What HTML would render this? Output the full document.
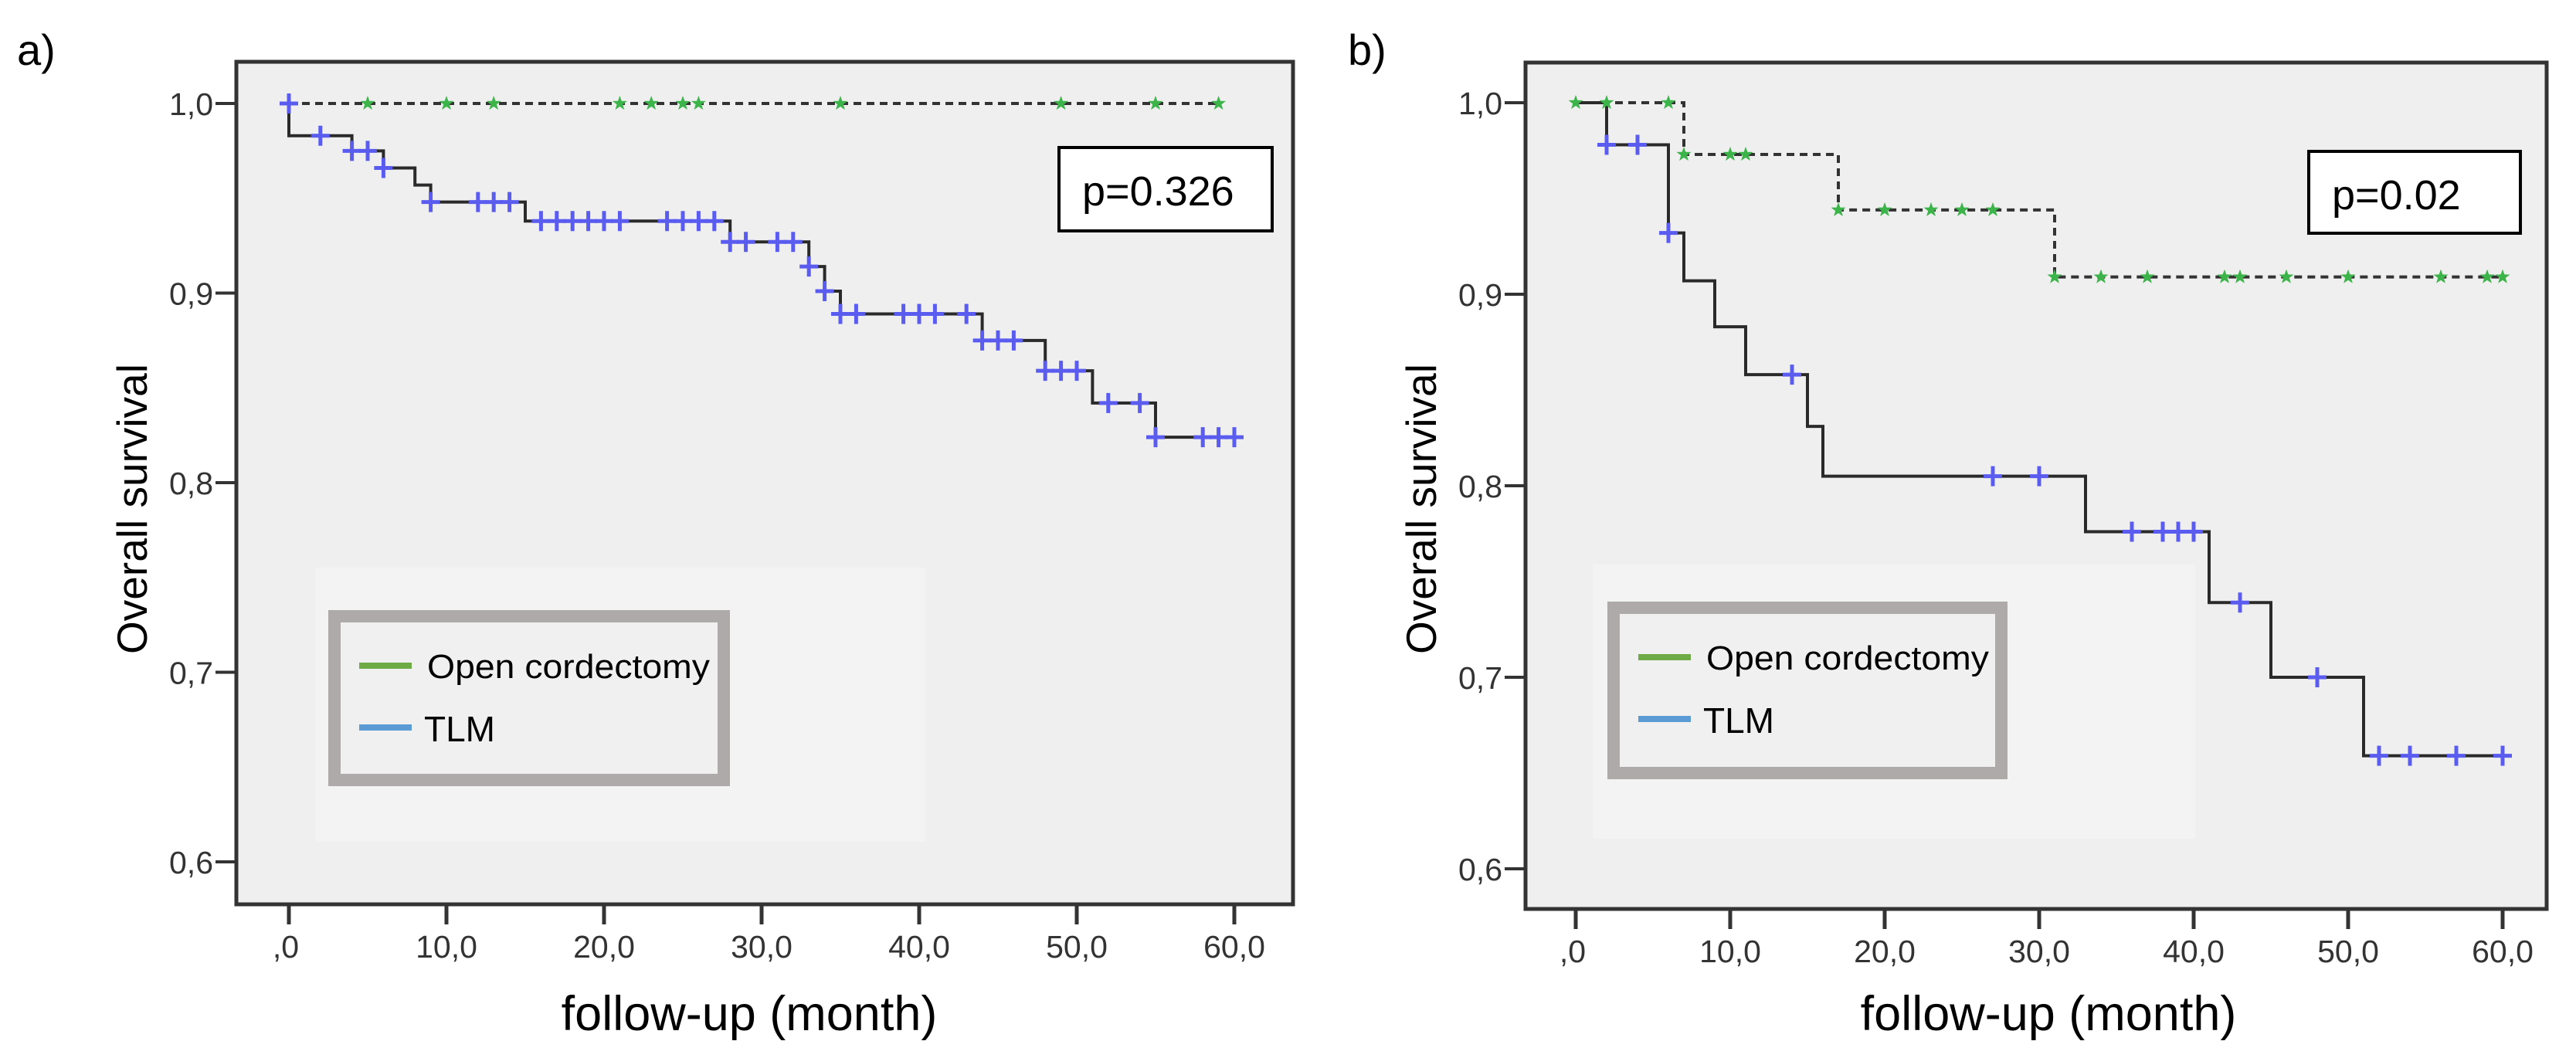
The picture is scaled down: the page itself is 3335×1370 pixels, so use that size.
<!DOCTYPE html>
<html><head><meta charset="utf-8">
<style>
html,body{margin:0;padding:0;background:#fff;}
svg{display:block;}
text{font-family:"Liberation Sans",sans-serif;}
.tick{fill:#333;font-size:41px;}
.lab{fill:#000;font-size:55px;}
.xlab{fill:#000;font-size:63px;}
</style></head>
<body>
<svg id="fig" width="3335" height="1370" viewBox="0 0 3335 1370" xmlns="http://www.w3.org/2000/svg"></svg>
<script>
const xTicks=[0,10,20,30,40,50,60];
const xTickLabels=[",0","10,0","20,0","30,0","40,0","50,0","60,0"];
const yTicks=[1.0,0.9,0.8,0.7,0.6];
const yTickLabels=["1,0","0,9","0,8","0,7","0,6"];
// Panel a
const aTlmStepTimes=[0,4,6,8,9,15,28,33,34,35,44,48,51,55];
const aTlmStepSurv=[0.983,0.975,0.966,0.957,0.948,0.938,0.927,0.914,0.901,0.889,0.875,0.859,0.842,0.824];
const aTlmEnd=60;
const aTlmCensor=[0,2,4,5,6,9,12,13,14,16,17,18,19,20,21,24,25,26,27,28,29,31,32,33,34,35,36,39,40,41,43,44,45,46,48,49,50,52,54,55,58,59,60];
const aOpenStepTimes=[];
const aOpenStepSurv=[];
const aOpenEnd=59;
const aOpenCensor=[5,10,13,21,23,25,26,35,49,55,59];
const aPValue="p=0.326";
// Panel b
const bTlmStepTimes=[2,6,7,9,11,15,16,33,41,45,51];
const bTlmStepSurv=[0.978,0.932,0.907,0.883,0.858,0.831,0.805,0.776,0.739,0.700,0.659];
const bTlmEnd=60;
const bTlmCensor=[2,4,6,14,27,30,36,38,39,40,43,48,52,54,57,60];
const bOpenStepTimes=[7,17,31];
const bOpenStepSurv=[0.973,0.944,0.909];
const bOpenEnd=60;
const bOpenCensor=[0,2,6,7,10,11,17,20,23,25,27,31,34,37,42,43,46,50,56,59,60];
const bPValue="p=0.02";

const NS="http://www.w3.org/2000/svg";
const svg=document.getElementById('fig');
function mk(tag,attrs,parent){const e=document.createElementNS(NS,tag);for(const k in attrs)e.setAttribute(k,attrs[k]);(parent||svg).appendChild(e);return e;}

function survAt(times,surv,t){if(t===0)return 1;let s=1;for(let i=0;i<times.length;i++){if(times[i]<=t)s=surv[i];}return s;}

function panel(cfg,times,surv,end,cens,otimes,osurv,oend,ocens,pval){
  const g=mk('g',{});
  
  
  const X=v=>cfg.x0+(v/60)*(cfg.x60-cfg.x0);
  const Y=v=>cfg.y1+(1-v)/0.1*cfg.dy;
  const lbl=mk('text',{x:cfg.lx,y:84,'font-size':56,fill:'#000'},g);lbl.textContent=cfg.label;
  
  const bg=mk('rect',{x:cfg.fl,y:cfg.ft,width:cfg.fr-cfg.fl,height:cfg.fb-cfg.ft,fill:'#efefef'},g);
  
  const lbg=mk('rect',{x:cfg.bgx,y:cfg.bgy,width:cfg.bgw,height:cfg.bgh,fill:'#f3f3f3'},g);
  
  yTicks.forEach((v,i)=>{
    const tl=mk('line',{x1:cfg.fl-27,x2:cfg.fl,y1:Y(v),y2:Y(v),stroke:'#333','stroke-width':4},g);
    
    const t=mk('text',{x:cfg.fl-30,y:Y(v)+15,'text-anchor':'end',class:'tick'},g);t.textContent=yTickLabels[i];
    
  });
  xTicks.forEach((v,i)=>{
    const tl=mk('line',{x1:X(v),x2:X(v),y1:cfg.fb,y2:cfg.fb+26,stroke:'#333','stroke-width':5},g);
    
    const t=mk('text',{x:X(v)-(i==0?4:0),y:cfg.fb+69,'text-anchor':'middle',class:'tick'},g);t.textContent=xTickLabels[i];
    
  });
  const yt=mk('text',{x:0,y:0,'text-anchor':'middle',class:'lab',transform:`translate(${cfg.ytx},${cfg.ytc}) rotate(-90)`},g);
  yt.textContent='Overall survival';
  const xt=mk('text',{x:cfg.xtc,y:1334,'text-anchor':'middle',class:'xlab'},g);
  xt.textContent='follow-up (month)';
  function stepPath(tm,sv,e){let d=`M${X(0)},${Y(1)}`;tm.forEach((t,i)=>{d+=` H${X(t)} V${Y(sv[i])}`;});d+=` H${X(e)}`;return d;}
  const op=mk('path',{d:stepPath(otimes,osurv,oend),fill:'none',stroke:'#333','stroke-width':4,'stroke-dasharray':'10 7'},g);
  
  const tp=mk('path',{d:stepPath(times,surv,end),fill:'none',stroke:'#2a2a2a','stroke-width':4},g);
  
  ocens.forEach(t=>{
    const cx=X(t),cy=Y(survAt(otimes,osurv,t));
    let pts=[];for(let k=0;k<10;k++){const r=k%2?4:10;const a=-Math.PI/2+k*Math.PI/5;pts.push((cx+r*Math.cos(a)).toFixed(1)+','+(cy+r*Math.sin(a)).toFixed(1));}
    const s=mk('polygon',{points:pts.join(' '),fill:'#3cb44a'},g);
    
  });
  cens.forEach(t=>{
    const cx=X(t),cy=Y(survAt(times,surv,t));
    const c=mk('path',{d:`M${cx-12},${cy} H${cx+12} M${cx},${cy-13} V${cy+13}`,stroke:'#5a5cf0','stroke-width':5},g);
    
  });
  const fr=mk('rect',{x:cfg.fl,y:cfg.ft,width:cfg.fr-cfg.fl,height:cfg.fb-cfg.ft,fill:'none',stroke:'#333','stroke-width':5},g);
  
  const lg=mk('g',{},g);
  mk('rect',{x:cfg.lgx+8,y:cfg.lgy+8,width:cfg.lgw-16,height:cfg.lgh-16,fill:'#f0f0f0',stroke:'#aeaaa9','stroke-width':16},lg);
  const l1=mk('line',{x1:cfg.lgx+40,x2:cfg.lgx+108,y1:cfg.lgy+72,y2:cfg.lgy+72,stroke:'#6fab44','stroke-width':8},lg);
  
  const t1=mk('text',{x:cfg.lgx+128,y:cfg.lgy+88,'font-size':44,fill:'#000',textLength:366,lengthAdjust:'spacingAndGlyphs'},lg);t1.textContent='Open cordectomy';
  
  const l2=mk('line',{x1:cfg.lgx+40,x2:cfg.lgx+108,y1:cfg.lgy+152,y2:cfg.lgy+152,stroke:'#5b9bd5','stroke-width':8},lg);
  
  const t2=mk('text',{x:cfg.lgx+124,y:cfg.lgy+170,'font-size':46,fill:'#000'},lg);t2.textContent='TLM';
  
  const pb=mk('rect',{x:cfg.px,y:cfg.py,width:cfg.pw,height:cfg.ph,fill:'#fff',stroke:'#000','stroke-width':4},g);
  
  const pt=mk('text',{x:cfg.px+30,y:cfg.py+75,'font-size':54,fill:'#000'},g);pt.textContent=pval;
  
}

panel({name:'panel-a',label:'a)',lx:22,fl:306,ft:80,fr:1674,fb:1171,x0:374,x60:1598,y1:134,dy:245.5,ytx:190,ytc:659,xtc:970,
  bgx:408,bgy:735,bgw:790,bgh:355,lgx:425,lgy:790,lgw:520,lgh:228,px:1371,py:191,pw:276,ph:108},
  aTlmStepTimes,aTlmStepSurv,aTlmEnd,aTlmCensor,aOpenStepTimes,aOpenStepSurv,aOpenEnd,aOpenCensor,aPValue);
panel({name:'panel-b',label:'b)',lx:1745,fl:1975,ft:81,fr:3297,fb:1177,x0:2040,x60:3240,y1:133,dy:248,ytx:1859,ytc:659,xtc:2652,
  bgx:2062,bgy:731,bgw:780,bgh:355,lgx:2081,lgy:779,lgw:518,lgh:230,px:2989,py:196,pw:274,ph:106},
  bTlmStepTimes,bTlmStepSurv,bTlmEnd,bTlmCensor,bOpenStepTimes,bOpenStepSurv,bOpenEnd,bOpenCensor,bPValue);
</script>
</body></html>
